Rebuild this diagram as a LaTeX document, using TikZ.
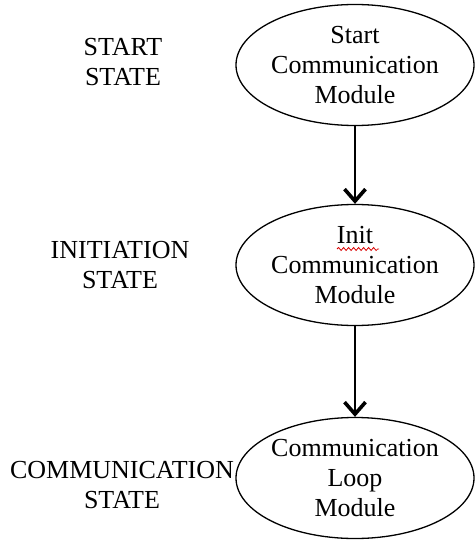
\documentclass[tikz,border=0pt]{standalone}
\usepackage{fontspec}
\setmainfont{Liberation Serif}
\usetikzlibrary{shapes.geometric,arrows.meta,decorations.pathmorphing}
\begin{document}
\begin{tikzpicture}[x=1pt,y=-1pt,
  module/.style={ellipse,draw,line width=1.3pt,minimum width=238pt,minimum height=121pt,
    inner sep=0pt,align=center,font=\fontsize{26}{30}\selectfont},
  statelabel/.style={align=center,font=\fontsize{26}{30}\selectfont},
  flow/.style={line width=1.4pt,-{Straight Barb[length=12pt,width=21pt,line width=3.6pt]}}]
  \useasboundingbox (0,0) rectangle (475,540);
  % modules
  \node[module] (start) at (355,65) {Start\\Communication\\Module};
  \node[module] (init) at (355,265) {Init\\Communication\\Module};
  \node[module] (loop) at (355,478) {Communication\\Loop\\Module};
  % state labels
  \node[statelabel] (s1) at (123,62) {START\\STATE};
  \node[statelabel] (s2) at (120,265) {INITIATION\\STATE};
  \node[statelabel] (s3) at (122,485) {COMMUNICATION\\STATE};
  % spell-check underline
  \coordinate (sq1) at (337,249);
  \coordinate (sq2) at (379,249);
  \draw[red!85!black,line width=0.8pt,decorate,decoration={snake,amplitude=1.5pt,segment length=5pt}] (sq1) -- (sq2);
  % transitions
  \draw[flow] (start) -- (init);
  \draw[flow] (init) -- (loop);
\end{tikzpicture}
\end{document}
